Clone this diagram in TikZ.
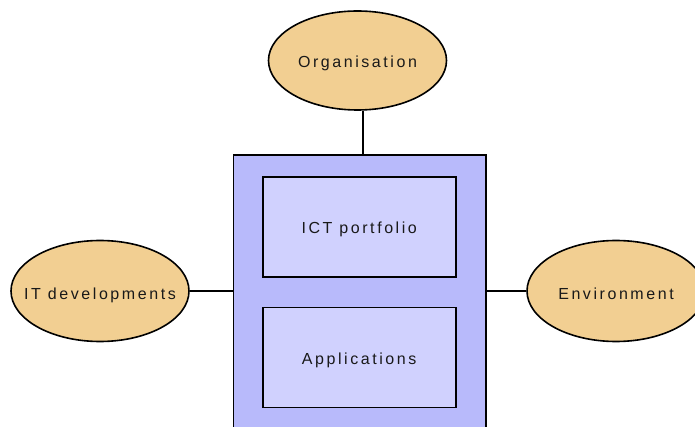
\documentclass[tikz,border=0pt]{standalone}
\usepackage{fontspec}
\newfontfamily\lblfont[LetterSpace=16]{Liberation Sans}
\usetikzlibrary{shapes.geometric}
\definecolor{ellfill}{HTML}{F2CF92}
\definecolor{outerfill}{HTML}{B8BAFB}
\definecolor{innerfill}{HTML}{D0D1FE}
\newcommand{\lbltext}[2]{\raisebox{#1}{\makebox[0pt]{#2}}}
\tikzset{
  lbl/.style={font=\lblfont\fontsize{16}{19}\selectfont, text=black!90, text height=11.5pt, text depth=0pt, inner sep=0pt},
  ell/.style={ellipse, draw=black, line width=1.6pt, fill=ellfill, minimum width=178pt, minimum height=101pt, lbl},
  outerbox/.style={draw=black, line width=1.6pt, fill=outerfill},
  innerbox/.style={draw=black, line width=1.6pt, fill=innerfill, minimum width=193pt, minimum height=100pt, lbl},
  conn/.style={draw=black, line width=1.6pt}
}
\begin{document}
\begin{tikzpicture}[x=1pt,y=-1pt]
\useasboundingbox (0,0) rectangle (695,427);
\node[outerbox, minimum width=252.4pt, minimum height=290pt, inner sep=0pt] (big) at (359.5,300) {};
\node[innerbox] (ict) at (359.2,227.2) {\lbltext{-1pt}{ICT portfolio}};
\node[innerbox] (apps) at (359.2,357.3) {\lbltext{-1pt}{Applications}};
\node[ell, minimum height=99pt] (org) at (357.5,60.5) {\lbltext{-1.5pt}{Organisation}};
\node[ell] (itd) at (100,291) {\lbltext{-3pt}{IT developments}};
\node[ell] (env) at (616,291) {\lbltext{-3pt}{Environment}};
\coordinate (orgfoot) at ([xshift=5.5pt]org.south);
\draw[conn] (orgfoot) -- (orgfoot |- big.north);
\draw[conn] (itd.east) -- (itd.east -| big.west);
\draw[conn] (env.west) -- (env.west -| big.east);
\end{tikzpicture}
\end{document}
